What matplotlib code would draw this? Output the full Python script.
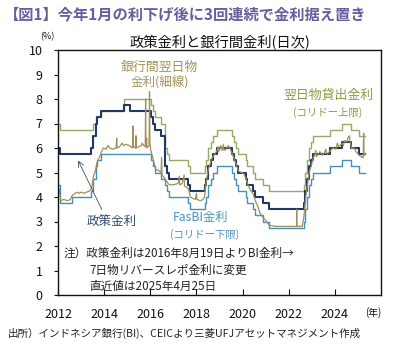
import pandas as pd
import matplotlib.pyplot as plt
import matplotlib.dates as mdates

plt.rcParams['font.family'] = ['Noto Sans CJK JP', 'DejaVu Sans']

# --- data (%), change dates for the step series ---
end_date = "2025-04-25"

# policy rate: BI rate, then BI 7-day reverse repo from 2016-08-19
policy_dates = ["2012-01-01", "2012-02-09", "2013-06-13", "2013-07-11", "2013-08-29",
                "2013-09-12", "2013-11-12", "2014-11-18", "2015-02-17", "2016-01-14",
                "2016-02-17", "2016-03-17", "2016-06-16", "2016-08-19", "2016-09-22",
                "2016-10-20", "2017-08-22", "2017-09-22", "2018-05-17", "2018-05-30",
                "2018-06-29", "2018-08-15", "2018-09-27", "2018-11-15", "2019-07-18",
                "2019-08-22", "2019-09-19", "2019-10-24", "2020-02-20", "2020-03-19",
                "2020-06-18", "2020-07-16", "2020-11-19", "2021-02-18", "2022-08-23",
                "2022-09-22", "2022-10-20", "2022-11-17", "2022-12-22", "2023-01-19",
                "2023-10-19", "2024-04-24", "2024-09-18", "2025-01-15"]
policy_rates = [6.00, 5.75, 6.00, 6.50, 7.00, 7.25, 7.50, 7.75, 7.50, 7.25,
                7.00, 6.75, 6.50, 5.25, 5.00, 4.75, 4.50, 4.25, 4.50, 4.75,
                5.25, 5.50, 5.75, 6.00, 5.75, 5.50, 5.25, 5.00, 4.75, 4.50,
                4.25, 4.00, 3.75, 3.50, 3.75, 4.25, 4.75, 5.25, 5.50, 5.75,
                6.00, 6.25, 6.00, 5.75]

# lending facility (corridor upper bound)
lending_dates = ["2012-01-01", "2012-02-09", "2013-07-11", "2013-08-29", "2013-11-12",
                 "2014-11-18", "2016-01-14", "2016-02-17", "2016-03-17", "2016-06-16",
                 "2016-08-19", "2016-09-22", "2016-10-20", "2017-08-22", "2017-09-22",
                 "2018-05-17", "2018-05-30", "2018-06-29", "2018-08-15", "2018-09-27",
                 "2018-11-15", "2019-07-18", "2019-08-22", "2019-09-19", "2019-10-24",
                 "2020-02-20", "2020-03-19", "2020-06-18", "2020-07-16", "2020-11-19",
                 "2021-02-18", "2022-08-23", "2022-09-22", "2022-10-20", "2022-11-17",
                 "2022-12-22", "2023-01-19", "2023-10-19", "2024-04-24", "2024-09-18",
                 "2025-01-15"]
lending_rates = [7.00, 6.75, 7.00, 7.25, 7.50, 8.00, 7.75, 7.50, 7.25, 7.00,
                 6.00, 5.75, 5.50, 5.25, 5.00, 5.25, 5.50, 6.00, 6.25, 6.50,
                 6.75, 6.50, 6.25, 6.00, 5.75, 5.50, 5.25, 5.00, 4.75, 4.50,
                 4.25, 4.50, 5.00, 5.50, 6.00, 6.25, 6.50, 6.75, 7.00, 6.75,
                 6.50]

# deposit facility / FasBI (corridor lower bound)
deposit_dates = ["2012-01-01", "2012-02-09", "2012-08-09", "2013-06-13", "2013-07-11",
                 "2013-08-29", "2013-09-12", "2013-11-12", "2016-01-14", "2016-02-17",
                 "2016-03-17", "2016-06-16", "2016-08-19", "2016-09-22", "2016-10-20",
                 "2017-08-22", "2017-09-22", "2018-05-17", "2018-05-30", "2018-06-29",
                 "2018-08-15", "2018-09-27", "2018-11-15", "2019-07-18", "2019-08-22",
                 "2019-09-19", "2019-10-24", "2020-02-20", "2020-03-19", "2020-06-18",
                 "2020-07-16", "2020-11-19", "2021-02-18", "2022-08-23", "2022-09-22",
                 "2022-10-20", "2022-11-17", "2022-12-22", "2023-01-19", "2023-10-19",
                 "2024-04-24", "2024-09-18", "2025-01-15"]
deposit_rates = [4.50, 3.75, 4.00, 4.25, 4.75, 5.25, 5.50, 5.75, 5.50, 5.25,
                 5.00, 4.75, 4.50, 4.25, 4.00, 3.75, 3.50, 3.75, 4.00, 4.50,
                 4.75, 5.00, 5.25, 5.00, 4.75, 4.50, 4.25, 4.00, 3.75, 3.50,
                 3.25, 3.00, 2.75, 3.00, 3.50, 4.00, 4.50, 4.75, 5.00, 5.25,
                 5.50, 5.25, 5.00]

# interbank overnight rate
interbank_dates = ["2012-01-02", "2012-01-20", "2012-02-05", "2012-02-15", "2012-04-01",
                   "2012-06-01", "2012-07-15", "2012-08-10", "2012-09-01", "2012-10-01",
                   "2012-11-01", "2012-12-01", "2013-01-01", "2013-02-15", "2013-04-01",
                   "2013-05-15", "2013-06-15", "2013-07-01", "2013-07-20", "2013-08-10",
                   "2013-09-01", "2013-09-20", "2013-10-15", "2013-11-20", "2013-12-20",
                   "2014-02-01", "2014-03-01", "2014-04-01", "2014-05-15", "2014-07-10",
                   "2014-07-18", "2014-07-25", "2014-09-01", "2014-10-10", "2014-11-01",
                   "2014-12-20", "2015-02-01", "2015-03-25", "2015-03-31", "2015-04-06",
                   "2015-05-10", "2015-05-20", "2015-05-26", "2015-07-01", "2015-08-15",
                   "2015-08-25", "2015-09-20", "2015-10-14", "2015-10-19", "2015-10-24",
                   "2015-11-05", "2015-11-10", "2015-12-14", "2015-12-20", "2015-12-26",
                   "2016-01-10", "2016-02-01", "2016-02-20", "2016-03-10", "2016-04-01",
                   "2016-05-01", "2016-06-20", "2016-06-28", "2016-07-05", "2016-08-20",
                   "2016-10-10", "2016-11-01", "2017-01-01", "2017-03-15", "2017-04-05",
                   "2017-04-10", "2017-05-20", "2017-06-20", "2017-06-25", "2017-08-01",
                   "2017-09-01", "2017-09-25", "2017-11-01", "2017-12-15", "2018-01-02",
                   "2018-01-08", "2018-03-01", "2018-04-15", "2018-05-10", "2018-05-25",
                   "2018-06-10", "2018-07-05", "2018-08-01", "2018-08-25", "2018-10-05",
                   "2018-11-25", "2018-12-10", "2018-12-20", "2019-01-01", "2019-01-20",
                   "2019-02-10", "2019-03-05", "2019-03-12", "2019-04-15", "2019-05-20",
                   "2019-06-20", "2019-07-25", "2019-08-28", "2019-09-25", "2019-10-30",
                   "2019-12-15", "2020-01-20", "2020-02-25", "2020-03-25", "2020-05-01",
                   "2020-06-20", "2020-07-20", "2020-09-01", "2020-10-01", "2020-11-25",
                   "2021-01-01", "2021-02-25", "2021-06-01", "2022-01-01", "2022-05-05",
                   "2022-05-07", "2022-05-10", "2022-08-01", "2022-08-25", "2022-09-10",
                   "2022-09-28", "2022-10-25", "2022-11-20", "2022-12-25", "2023-01-25",
                   "2023-02-20", "2023-03-05", "2023-03-12", "2023-04-01", "2023-05-10",
                   "2023-06-15", "2023-07-20", "2023-08-10", "2023-09-01", "2023-10-25",
                   "2023-12-01", "2024-01-15", "2024-02-10", "2024-03-01", "2024-04-28",
                   "2024-05-15", "2024-06-01", "2024-07-10", "2024-07-25", "2024-08-20",
                   "2024-08-25", "2024-09-22", "2024-11-01", "2024-12-01", "2025-01-20",
                   "2025-02-20", "2025-03-25", "2025-04-01", "2025-04-08", "2025-04-25"]
interbank_rates = [4.45, 4.30, 4.00, 3.85, 3.90, 3.85, 3.90, 4.05, 4.10, 4.15,
                   4.20, 4.15, 4.20, 4.15, 4.20, 4.25, 4.35, 4.60, 4.90, 5.00,
                   5.30, 5.50, 5.60, 5.85, 6.00, 5.95, 6.10, 6.00, 5.95, 6.00,
                   6.40, 6.00, 6.05, 6.20, 6.10, 6.15, 6.10, 6.00, 6.90, 6.05,
                   6.00, 6.50, 6.00, 6.05, 6.10, 6.20, 6.10, 6.05, 8.00, 6.05,
                   6.40, 6.00, 6.10, 8.30, 6.20, 5.90, 5.70, 5.50, 5.30, 5.10,
                   5.10, 5.00, 5.60, 4.90, 4.75, 4.55, 4.50, 4.50, 4.55, 4.85,
                   4.50, 4.55, 4.90, 4.45, 4.40, 4.30, 4.00, 3.95, 3.90, 4.15,
                   3.90, 3.85, 3.90, 4.00, 4.40, 4.70, 5.10, 5.30, 5.55, 5.70,
                   5.90, 6.05, 5.85, 5.95, 6.10, 5.90, 6.15, 5.90, 5.95, 6.10,
                   5.95, 5.75, 5.50, 5.30, 5.05, 5.00, 4.95, 4.75, 4.50, 4.30,
                   4.10, 3.85, 3.60, 3.35, 3.15, 3.05, 2.85, 2.80, 2.80, 2.80,
                   3.50, 2.80, 2.80, 3.10, 3.50, 4.00, 4.50, 5.00, 5.30, 5.60,
                   5.75, 5.90, 5.65, 5.70, 5.85, 5.70, 5.80, 5.95, 5.75, 5.90,
                   6.00, 5.95, 6.20, 6.05, 6.20, 6.10, 6.30, 6.25, 6.40, 6.50,
                   6.30, 6.00, 6.00, 5.85, 5.70, 5.65, 5.60, 6.60, 5.70, 5.75]

years = list(range(2012, 2025, 2))


def step_xy(dates, rates):
    x = pd.to_datetime(dates + [end_date])
    y = rates + [rates[-1]]
    return x, y


W, H = 393, 346


def fx(px):
    return px / W


def fy(py):
    return 1 - py / H


fig = plt.figure(figsize=(W / 100, H / 100), dpi=100)
ax = fig.add_axes([fx(58), fy(295), fx(381) - fx(58), fy(50) - fy(295)])

navy = "#1f3a63"
green = "#93ab66"
teal = "#4391b6"
olive = "#a08f58"

x, y = step_xy(lending_dates, lending_rates)
ax.step(x, y, where="post", color=green, lw=1.0)
x, y = step_xy(deposit_dates, deposit_rates)
ax.step(x, y, where="post", color=teal, lw=1.0)
x, y = step_xy(policy_dates, policy_rates)
ax.step(x, y, where="post", color=navy, lw=1.5)
ax.plot(pd.to_datetime(interbank_dates), interbank_rates, color=olive, lw=0.9)

ax.set_ylim(0, 10)
ax.set_yticks(range(0, 11))
ax.set_xlim(pd.Timestamp("2012-01-01"), pd.Timestamp("2026-01-01"))
ax.set_xticks([pd.Timestamp(f"{yr}-01-01") for yr in years])
ax.xaxis.set_major_formatter(mdates.DateFormatter("%Y"))
ax.tick_params(axis="x", direction="in", length=4, width=0.8, pad=9.5,
               labelsize=9, colors="#111111")
ax.tick_params(axis="y", direction="out", length=3, width=0.8, pad=8,
               labelsize=9, colors="#111111")
for s in ax.spines.values():
    s.set_linewidth(1.0)
    s.set_color("#111111")

# titles
fig.text(fx(4), fy(14), "【図1】今年1月の利下げ後に3回連続で金利据え置き",
         fontsize=11, fontweight="bold", color="#6a5c9e", va="center", ha="left")
fig.text(fx(220), fy(43), "政策金利と銀行間金利(日次)", fontsize=10.3,
         color="#111111", va="center", ha="center")
fig.text(fx(47), fy(37), "(%)", fontsize=6.5, color="#111111", va="center", ha="center")
fig.text(fx(373), fy(313), "(年)", fontsize=7, color="#111111", va="center", ha="center")

# series labels
fig.text(fx(159), fy(67), "銀行間翌日物", fontsize=9.3, color="#a39258",
         va="center", ha="center")
fig.text(fx(160), fy(83), "金利(細線)", fontsize=9, color="#a39258",
         va="center", ha="center")
fig.text(fx(328), fy(95), "翌日物貸出金利", fontsize=9.3, color="#8c9c45",
         va="center", ha="center")
fig.text(fx(328), fy(112), "(コリドー上限)", fontsize=7.5, color="#8c9c45",
         va="center", ha="center")
fig.text(fx(112), fy(222), "政策金利", fontsize=9, color="#2f4a6e",
         va="center", ha="center")
fig.text(fx(201), fy(218), "FasBI金利", fontsize=8.8, color="#4a94ba",
         va="center", ha="center")
fig.text(fx(205), fy(235), "(コリドー下限)", fontsize=7.5, color="#4a94ba",
         va="center", ha="center")
fig.add_artist(plt.Annotation("", xy=(fx(77), fy(158)), xytext=(fx(103), fy(212)),
                              xycoords="figure fraction", textcoords="figure fraction",
                              arrowprops=dict(arrowstyle="->", color="#3c4f6e", lw=0.6)))

# note and source
fig.text(fx(64), fy(253), "注）政策金利は2016年8月19日よりBI金利→", fontsize=8.4,
         color="#222222", va="center", ha="left")
fig.text(fx(89), fy(270), "7日物リバースレポ金利に変更", fontsize=8.4,
         color="#222222", va="center", ha="left")
fig.text(fx(89), fy(286), "直近値は2025年4月25日", fontsize=8.4,
         color="#222222", va="center", ha="left")
fig.text(fx(8), fy(333), "出所）インドネシア銀行(BI)、CEICより三菱UFJアセットマネジメント作成",
         fontsize=7.6, color="#222222", va="center", ha="left")

fig.savefig("out.png", dpi=100)
